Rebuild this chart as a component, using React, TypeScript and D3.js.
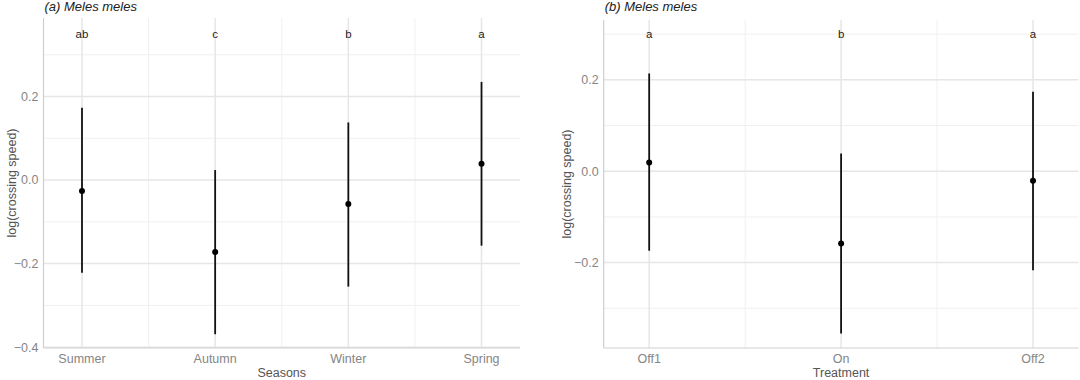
import React from "react";
import * as d3 from "d3";

const seasons = ["Summer", "Autumn", "Winter", "Spring"];
const seasonMean = [-0.026, -0.172, -0.057, 0.039];
const seasonLower = [-0.222, -0.369, -0.255, -0.157];
const seasonUpper = [0.173, 0.024, 0.138, 0.235];
const seasonLetters = ["ab", "c", "b", "a"];
const seasonLetterY = 0.35;
const seasonTicks = [-0.4, -0.2, 0.0, 0.2];

const treatments = ["Off1", "On", "Off2"];
const treatMean = [0.019, -0.158, -0.021];
const treatLower = [-0.174, -0.355, -0.217];
const treatUpper = [0.214, 0.039, 0.174];
const treatLetters = ["a", "b", "a"];
const treatLetterY = 0.3;
const treatTicks = [-0.2, 0.0, 0.2];

const FONT = "'Liberation Sans', Arial, Helvetica, sans-serif";

type PanelProps = {
  title: string;
  xTitle: string;
  cats: string[];
  mean: number[];
  lower: number[];
  upper: number[];
  letters: string[];
  letterY: number;
  ticks: number[];
  x0: number;
  x1: number;
  pad: number;
  yDomain: [number, number];
  yTop: number;
  yBottom: number;
  yTitleX: number;
};

function Panel(p: PanelProps) {
  const x = d3.scalePoint<string>().domain(p.cats).range([p.x0, p.x1]).padding(p.pad);
  const y = d3.scaleLinear().domain(p.yDomain).range([p.yBottom, p.yTop]);
  const step = x.step();
  const fmt = d3.format(".1f");
  const bd = p.ticks[1] - p.ticks[0];
  const ext = [p.ticks[0] - bd, ...p.ticks, p.ticks[p.ticks.length - 1] + bd];
  const minors: number[] = [];
  for (let i = 0; i < ext.length - 1; i++) minors.push((ext[i] + ext[i + 1]) / 2);
  const minorIn = minors.filter((v) => v >= p.yDomain[0] && v <= p.yDomain[1]);
  const catMinor = p.cats.slice(0, -1).map((c) => (x(c) as number) + step / 2);
  const midX = (p.x0 + p.x1) / 2;
  const midY = (p.yTop + p.yBottom) / 2;
  return (
    <g fontFamily={FONT}>
      {minorIn.map((v, i) => (
        <line key={"hm" + i} x1={p.x0} x2={p.x1} y1={y(v)} y2={y(v)} stroke="#f0f0f0" strokeWidth={1} />
      ))}
      {catMinor.map((cx, i) => (
        <line key={"vm" + i} x1={cx} x2={cx} y1={p.yTop} y2={p.yBottom} stroke="#f0f0f0" strokeWidth={1} />
      ))}
      {p.ticks.map((v, i) => (
        <line key={"hM" + i} x1={p.x0} x2={p.x1} y1={y(v)} y2={y(v)} stroke="#e6e6e6" strokeWidth={1.5} />
      ))}
      {p.cats.map((c) => (
        <line key={"vM" + c} x1={x(c)} x2={x(c)} y1={p.yTop} y2={p.yBottom} stroke="#e6e6e6" strokeWidth={1.5} />
      ))}
      <line x1={p.x0} x2={p.x0} y1={p.yTop} y2={p.yBottom} stroke="#cfcfcf" strokeWidth={1.2} />
      <line x1={p.x0} x2={p.x1} y1={p.yBottom} y2={p.yBottom} stroke="#cfcfcf" strokeWidth={1.2} />
      {p.cats.map((c, i) => (
        <g key={"d" + c}>
          <line x1={x(c)} x2={x(c)} y1={y(p.lower[i])} y2={y(p.upper[i])} stroke="#111" strokeWidth={1.8} />
          <circle cx={x(c)} cy={y(p.mean[i])} r={3} fill="#000" />
          <text x={x(c)} y={y(p.letterY)} dy="0.35em" textAnchor="middle" fontSize={11.5} fill="#222">
            {p.letters[i]}
          </text>
        </g>
      ))}
      {p.ticks.map((v, i) => (
        <text key={"yt" + i} x={p.x0 - 5} y={y(v)} dy="0.35em" textAnchor="end" fontSize={12.5} fill="#858585">
          {fmt(v)}
        </text>
      ))}
      {p.cats.map((c) => (
        <text key={"xt" + c} x={x(c)} y={p.yBottom + 11} dy="0.35em" textAnchor="middle" fontSize={12.5} fill="#858585">
          {c}
        </text>
      ))}
      <text x={midX} y={p.yBottom + 25} dy="0.35em" textAnchor="middle" fontSize={12.5} fill="#555">
        {p.xTitle}
      </text>
      <text
        transform={`translate(${p.yTitleX},${midY}) rotate(-90)`}
        dy="0.35em"
        textAnchor="middle"
        fontSize={12.5}
        fill="#555"
      >
        log(crossing speed)
      </text>
      <text x={p.x0 + 1} y={11} fontSize={13} fontStyle="italic" fill="#222">
        {p.title}
      </text>
    </g>
  );
}

export default function App() {
  return (
    <svg width={1080} height={380} style={{ position: "absolute", left: 0, top: 0, background: "#fff" }}>
      <rect width={1080} height={380} fill="#fff" />
      <Panel
        title="(a) Meles meles"
        xTitle="Seasons"
        cats={seasons}
        mean={seasonMean}
        lower={seasonLower}
        upper={seasonUpper}
        letters={seasonLetters}
        letterY={seasonLetterY}
        ticks={seasonTicks}
        x0={43.5}
        x1={520}
        pad={0.289}
        yDomain={[-0.402, 0.388]}
        yTop={18}
        yBottom={348}
        yTitleX={12}
      />
      <Panel
        title="(b) Meles meles"
        xTitle="Treatment"
        cats={treatments}
        mean={treatMean}
        lower={treatLower}
        upper={treatUpper}
        letters={treatLetters}
        letterY={treatLetterY}
        ticks={treatTicks}
        x0={603.7}
        x1={1078.5}
        pad={0.237}
        yDomain={[-0.387, 0.331]}
        yTop={20}
        yBottom={348}
        yTitleX={567}
      />
    </svg>
  );
}
